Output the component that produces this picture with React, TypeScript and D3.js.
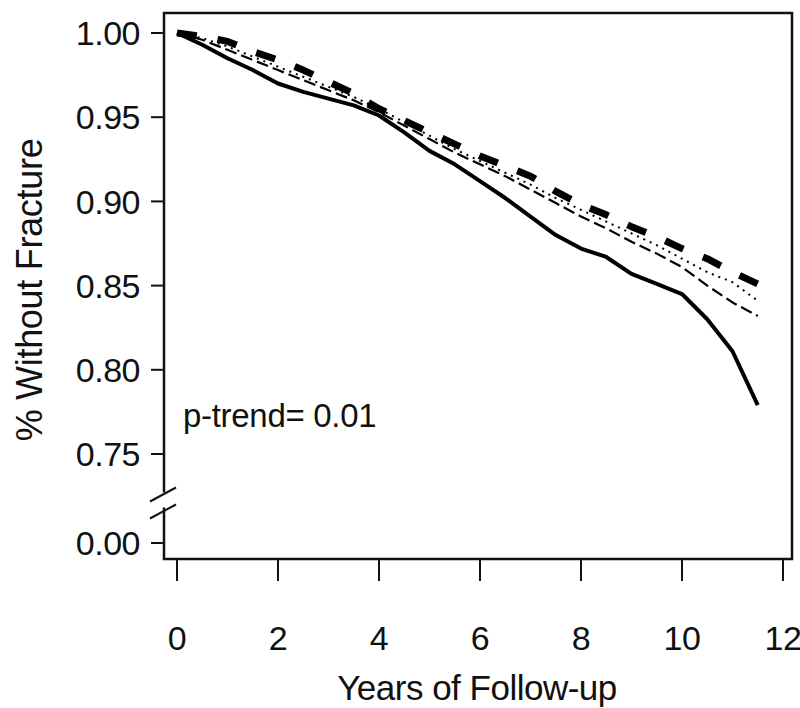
import React from "react";
import * as d3 from "d3";

// years of follow-up (half-year steps)
const years = [0, 0.5, 1, 1.5, 2, 2.5, 3, 3.5, 4, 4.5, 5, 5.5, 6, 6.5, 7, 7.5, 8, 8.5, 9, 9.5, 10, 10.5, 11, 11.5];

// survival free of fracture
const q1 = [1.0, 0.993, 0.985, 0.978, 0.97, 0.965, 0.961, 0.957, 0.951, 0.941, 0.93, 0.922, 0.912, 0.902, 0.891, 0.88, 0.872, 0.867, 0.857, 0.851, 0.845, 0.83, 0.811, 0.779];
const q2 = [1.0, 0.996, 0.99, 0.984, 0.978, 0.972, 0.966, 0.96, 0.953, 0.945, 0.937, 0.929, 0.922, 0.915, 0.907, 0.899, 0.891, 0.884, 0.876, 0.869, 0.861, 0.85, 0.84, 0.832];
const q3 = [1.0, 0.997, 0.992, 0.986, 0.98, 0.974, 0.968, 0.962, 0.955, 0.947, 0.939, 0.931, 0.924, 0.917, 0.91, 0.902, 0.895, 0.888, 0.881, 0.874, 0.866, 0.858, 0.852, 0.841];
const q4 = [1.0, 0.998, 0.995, 0.989, 0.984, 0.978, 0.971, 0.964, 0.955, 0.948, 0.941, 0.934, 0.927, 0.921, 0.915, 0.906, 0.898, 0.892, 0.885, 0.879, 0.872, 0.866, 0.858, 0.851];

const yTicks = [1.0, 0.95, 0.9, 0.85, 0.8, 0.75, 0.0];
const xTicks = [0, 2, 4, 6, 8, 10, 12];

const font = "'Liberation Sans', Arial, Helvetica, sans-serif";

const App = () => {
  const width = 800;
  const height = 708;
  const box = { left: 164, right: 792, top: 13, bottom: 559 };

  const x = d3.scaleLinear().domain([0, 12]).range([177, 783]);
  // broken axis: 0.00 sits just below the 0.75..1.00 part
  const y = d3.scaleLinear().domain([0, 0.75, 1.0]).range([543, 454, 33]);

  const line = d3
    .line<number>()
    .x((d, i) => x(years[i]))
    .y((d) => y(d));

  const series = [
    { values: q4, width: 7, dash: "20 21" },
    { values: q3, width: 2, dash: "2 5" },
    { values: q2, width: 2.2, dash: "12 5" },
    { values: q1, width: 4, dash: null },
  ];

  const breakY = (y(0) + y(0.75)) / 2;

  return (
    <svg width={width} height={height} style={{ position: "absolute", left: 0, top: 0, background: "#fff" }} fontFamily={font}>
      <rect x={0} y={0} width={width} height={height} fill="#fff" />

      {/* box, left side broken */}
      <path
        d={`M${box.left},${breakY - 6}V${box.top}H${box.right}V${box.bottom}H${box.left}V${breakY + 9}`}
        fill="none"
        stroke="#111"
        strokeWidth={2.5}
      />
      <line x1={150} y1={breakY + 3} x2={176} y2={breakY - 11} stroke="#111" strokeWidth={2} />
      <line x1={150} y1={breakY + 20} x2={176} y2={breakY + 6} stroke="#111" strokeWidth={2} />

      {/* y axis */}
      {yTicks.map((t) => (
        <g key={t}>
          <line x1={151} x2={box.left} y1={y(t)} y2={y(t)} stroke="#111" strokeWidth={2} />
          <text x={140} y={y(t)} dy="0.36em" textAnchor="end" fontSize={34} fill="#111" letterSpacing={-0.5}>
            {t.toFixed(2)}
          </text>
        </g>
      ))}

      {/* x axis */}
      {xTicks.map((t) => (
        <g key={t}>
          <line x1={x(t)} x2={x(t)} y1={box.bottom} y2={581} stroke="#111" strokeWidth={2} />
          <text x={x(t)} y={650} textAnchor="middle" fontSize={34} fill="#111" letterSpacing={-0.5}>
            {t}
          </text>
        </g>
      ))}

      <text
        transform="translate(42,290) rotate(-90)"
        textAnchor="middle"
        fontSize={36}
        fill="#111"
        letterSpacing={-0.3}
      >
        % Without Fracture
      </text>
      <text x={477} y={700} textAnchor="middle" fontSize={35} fill="#111" letterSpacing={-0.5}>
        Years of Follow-up
      </text>

      <text x={183} y={427} fontSize={33} fill="#111" letterSpacing={-0.3}>
        p-trend= 0.01
      </text>

      {series.map((s, i) => (
        <path
          key={i}
          d={line(s.values) || ""}
          fill="none"
          stroke="#000"
          strokeWidth={s.width}
          strokeDasharray={s.dash || undefined}
          strokeLinejoin="round"
        />
      ))}
    </svg>
  );
};

export default App;
